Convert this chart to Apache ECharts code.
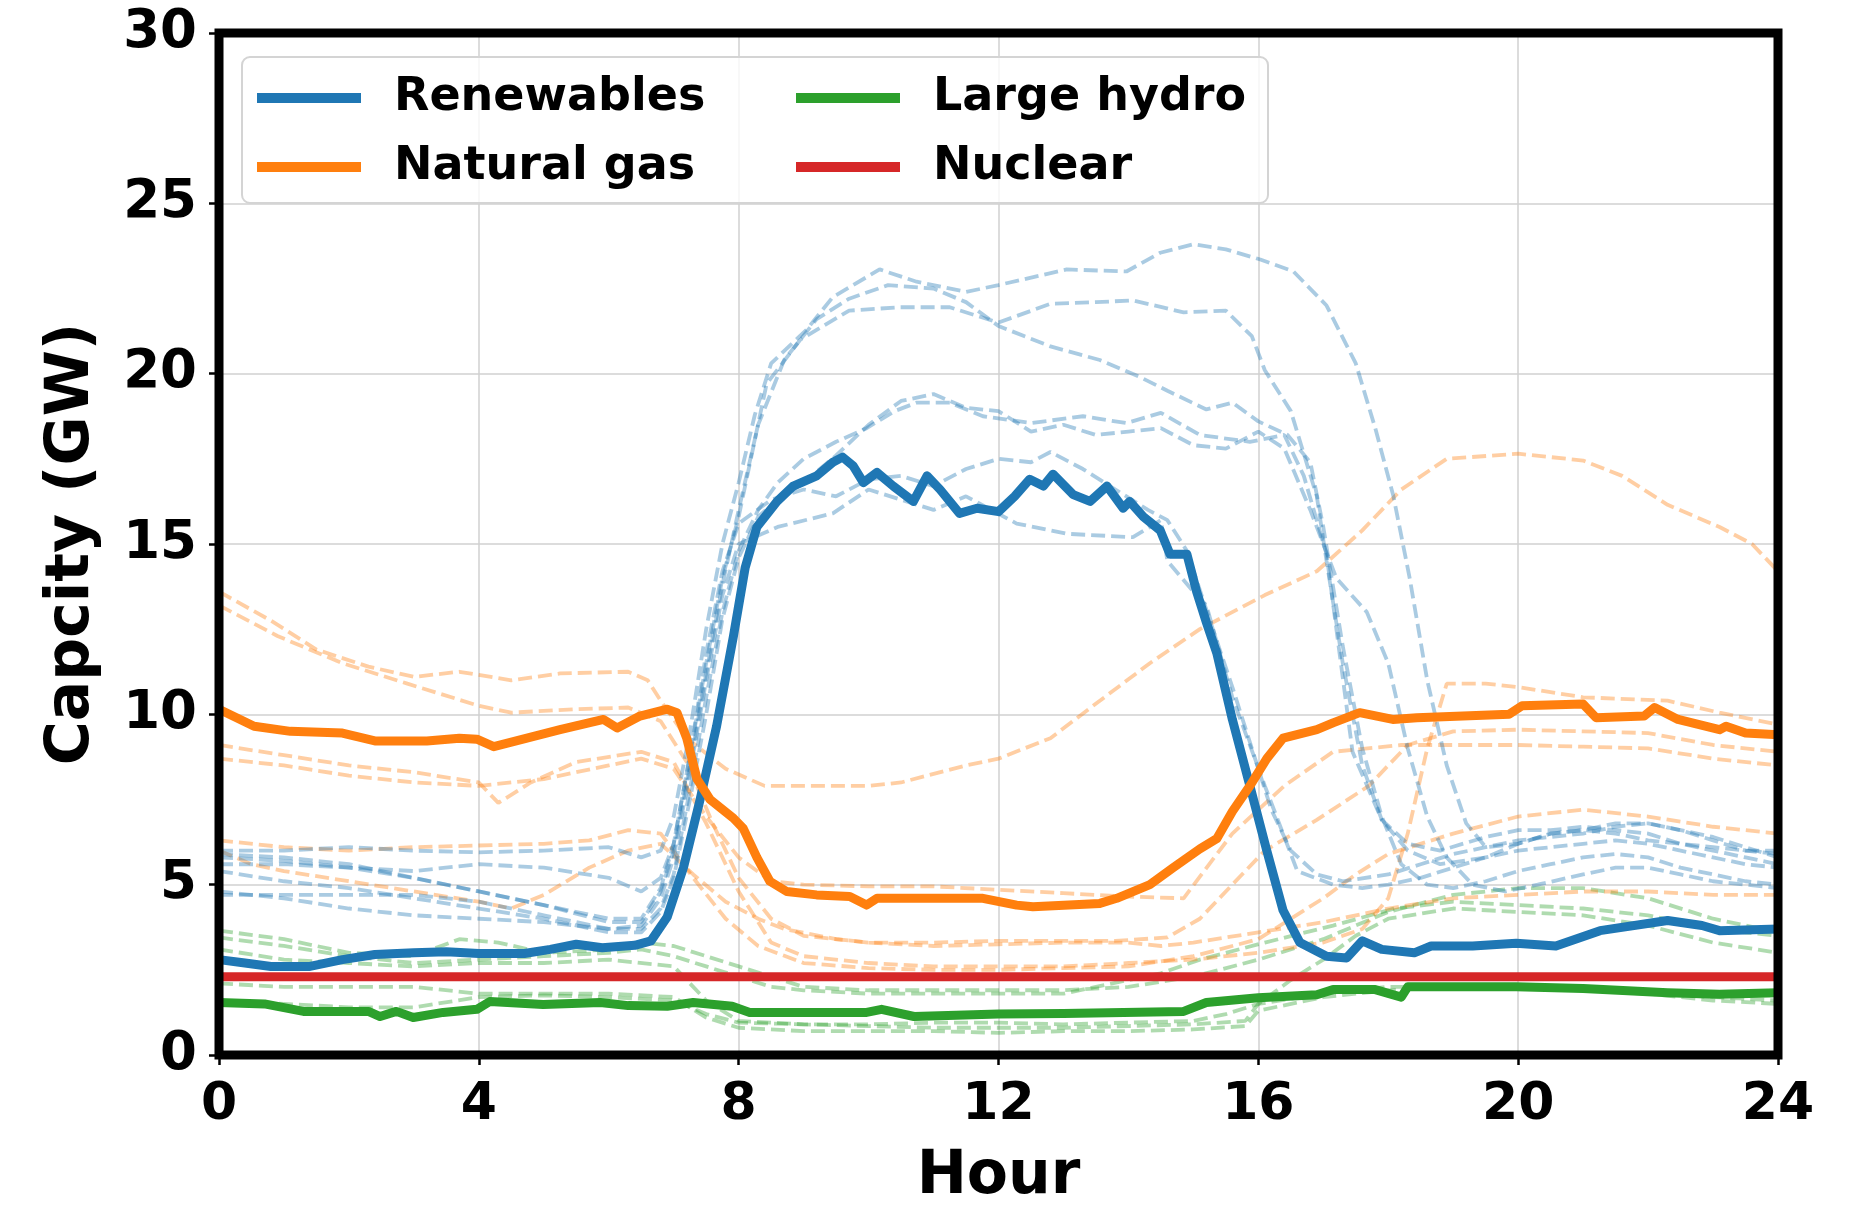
<!DOCTYPE html>
<html>
<head>
<meta charset="utf-8">
<script src="https://cdn.jsdelivr.net/npm/echarts@6/dist/echarts.min.js"></script>
<style>
html,body{margin:0;padding:0;background:#fff;}
#chart{width:1854px;height:1212px;}
</style>
</head>
<body>
<div id="chart"></div>
<script>
// ---------- DATA ----------
const xTicks = [0, 4, 8, 12, 16, 20, 24];
const yTicks = [0, 5, 10, 15, 20, 25, 30];
const legendNames = ['Renewables', 'Natural gas', 'Large hydro', 'Nuclear'];

// Main (solid) lines: [hour, GW]
const renewablesMain = [[0,2.8],[0.4,2.7],[0.8,2.6],[1.4,2.6],[1.9,2.8],[2.4,2.95],[3,3.0],[3.5,3.03],[4,2.98],[4.7,2.98],[5.1,3.1],[5.5,3.25],[5.9,3.15],[6.4,3.22],[6.65,3.35],[6.9,4.05],[7.15,5.5],[7.4,7.45],[7.66,9.65],[7.92,12.3],[8.1,14.3],[8.28,15.5],[8.59,16.25],[8.84,16.7],[9.2,17.0],[9.45,17.4],[9.6,17.55],[9.76,17.3],[9.92,16.8],[10.13,17.1],[10.38,16.7],[10.69,16.25],[10.9,17.0],[11.1,16.6],[11.4,15.9],[11.67,16.05],[12.0,15.95],[12.25,16.4],[12.48,16.9],[12.69,16.7],[12.84,17.05],[13.15,16.45],[13.41,16.25],[13.67,16.7],[13.92,16.05],[14.02,16.25],[14.23,15.8],[14.49,15.4],[14.64,14.7],[14.9,14.7],[15.05,13.6],[15.2,12.7],[15.36,11.8],[15.6,9.85],[15.87,7.9],[16.13,6.0],[16.38,4.25],[16.64,3.3],[17.05,2.9],[17.36,2.85],[17.6,3.35],[17.9,3.1],[18.4,3.0],[18.66,3.2],[19.3,3.2],[19.97,3.28],[20.58,3.2],[21.26,3.65],[22.3,3.95],[22.83,3.8],[23.1,3.65],[24,3.7]];
const naturalGasMain = [[0,10.15],[0.54,9.65],[1.1,9.5],[1.9,9.45],[2.4,9.22],[3.2,9.22],[3.7,9.3],[3.97,9.27],[4.23,9.05],[4.74,9.3],[5.25,9.55],[5.92,9.85],[6.13,9.6],[6.48,9.95],[6.9,10.15],[7.05,10.05],[7.2,9.3],[7.36,8.1],[7.56,7.5],[7.92,6.95],[8.07,6.65],[8.28,5.8],[8.48,5.1],[8.74,4.8],[9.2,4.7],[9.71,4.65],[9.97,4.4],[10.13,4.6],[10.99,4.6],[11.76,4.6],[12.28,4.4],[12.53,4.35],[13.56,4.45],[13.82,4.6],[14.33,5.0],[14.69,5.5],[15.1,6.05],[15.36,6.35],[15.6,7.15],[15.87,7.9],[16.13,8.7],[16.38,9.3],[16.9,9.55],[17.15,9.75],[17.56,10.05],[18.07,9.85],[18.44,9.9],[19.86,10.0],[20.06,10.25],[21.0,10.3],[21.2,9.9],[21.94,9.95],[22.1,10.2],[22.46,9.85],[23.1,9.55],[23.2,9.65],[23.5,9.45],[24,9.4]];
const largeHydroMain = [[0,1.54],[0.7,1.5],[1.3,1.28],[2.3,1.28],[2.48,1.13],[2.73,1.28],[2.99,1.1],[3.45,1.25],[3.97,1.34],[4.17,1.57],[4.99,1.48],[5.87,1.54],[6.3,1.45],[6.9,1.43],[7.3,1.54],[7.9,1.43],[8.17,1.25],[9.97,1.25],[10.2,1.34],[10.7,1.13],[12.0,1.2],[13,1.22],[14.85,1.28],[15.2,1.54],[16.0,1.68],[16.9,1.77],[17.15,1.92],[17.8,1.92],[18.2,1.7],[18.3,2.0],[19.97,2.0],[21,1.95],[22.3,1.83],[23.1,1.78],[24,1.83]];
const nuclearMain = [[0,2.3],[24,2.3]];

// Other days (dashed, faint)
const renewablesDay1 = [[0,6.0],[1,6.0],[2,6.1],[3,6.0],[4,5.95],[5,6.0],[6,6.1],[6.5,5.8],[6.8,6.0],[7.0,7.0],[7.25,9.5],[7.5,12.5],[7.75,15.0],[8.0,16.8],[8.25,18.8],[8.5,20.3],[9.05,21.3],[9.45,22.25],[10.17,23.06],[10.74,22.7],[11.5,22.4],[12.0,22.6],[13.05,23.06],[13.97,23.0],[14.49,23.55],[15.0,23.8],[15.5,23.65],[16.03,23.35],[16.54,23.0],[17.05,22.0],[17.5,20.3],[17.8,18.4],[18.08,16.4],[18.33,14.0],[18.6,11.0],[18.9,8.5],[19.2,6.8],[19.5,6.1],[20,6.2],[20.5,6.5],[21,6.6],[21.5,6.8],[22,6.8],[22.5,6.6],[23,6.3],[23.5,6.0],[24,5.9]];
const renewablesDay2 = [[0,5.6],[1,5.6],[2,5.5],[3,5.4],[4,5.6],[5,5.5],[6,5.2],[6.5,4.8],[6.8,5.2],[7.0,6.2],[7.25,8.8],[7.5,11.5],[7.75,14.0],[8.0,15.8],[8.43,19.7],[8.95,21.0],[9.7,21.85],[10.48,21.95],[11.25,21.95],[12.0,21.5],[12.8,22.05],[13.5,22.1],[14.07,22.15],[14.85,21.8],[15.5,21.85],[15.9,21.1],[16.1,20.1],[16.5,18.9],[16.9,16.4],[17.05,14.5],[17.3,11.5],[17.6,8.5],[17.9,6.9],[18.3,6.0],[18.8,5.6],[19.5,5.8],[20,6.2],[20.5,6.5],[21,6.6],[21.5,6.5],[22,6.3],[22.5,6.2],[23,6.0],[23.5,5.8],[24,5.6]];
const renewablesDay3 = [[0,5.9],[1,5.8],[2,5.6],[3,5.2],[4,4.8],[5,4.4],[6,3.9],[6.5,3.9],[6.8,4.8],[7.0,6.0],[7.25,8.5],[7.5,11.2],[7.75,13.8],[8.0,16.0],[8.3,18.5],[8.7,20.4],[9.2,21.6],[9.7,22.2],[10.3,22.6],[11.0,22.5],[11.5,22.1],[12.0,21.4],[12.8,20.8],[13.56,20.4],[14.18,19.9],[14.6,19.5],[15.2,18.95],[15.6,19.15],[16.0,18.6],[16.45,18.2],[16.8,17.4],[17.0,15.5],[17.3,12.0],[17.6,9.0],[17.9,7.0],[18.2,5.6],[18.6,5.0],[19,4.9],[19.5,5.1],[20,5.4],[20.5,5.6],[21,5.8],[21.5,5.9],[22,5.8],[22.5,5.5],[23,5.3],[23.5,5.1],[24,5.0]];
const renewablesDay4 = [[0,4.7],[1,4.7],[2,4.7],[3,4.7],[4,4.5],[5,4.1],[6,3.7],[6.5,3.7],[6.8,4.3],[7.0,5.3],[7.25,7.8],[7.5,10.5],[7.75,13.0],[8.0,14.8],[8.3,16.0],[8.6,16.8],[9.0,17.5],[9.5,18.0],[9.97,18.4],[10.4,18.9],[10.74,19.15],[11.25,19.15],[11.76,18.75],[12.5,18.55],[13.3,18.75],[13.97,18.55],[14.5,18.85],[15.1,18.2],[15.87,18.0],[16.4,18.2],[16.7,17.0],[17.05,14.7],[17.45,8.9],[17.9,6.9],[18.3,6.2],[18.8,6.0],[19.5,6.4],[20,6.6],[20.5,6.6],[21,6.7],[21.5,6.6],[22,6.5],[22.5,6.2],[23,6.1],[23.5,6.0],[24,6.0]];
const renewablesDay5 = [[0,5.4],[1,5.1],[2,4.9],[3,4.6],[4,4.3],[5,4.0],[6,3.6],[6.5,3.6],[6.8,4.2],[7.0,5.2],[7.25,7.5],[7.5,10.0],[7.75,12.8],[8.0,14.6],[8.3,15.8],[8.6,16.3],[9.0,16.8],[9.5,17.6],[10.0,18.5],[10.5,19.2],[11.0,19.4],[11.5,19.0],[12.0,18.9],[12.5,18.3],[13.0,18.5],[13.5,18.2],[14.0,18.3],[14.5,18.4],[15.0,17.9],[15.5,17.8],[16.0,18.3],[16.4,17.8],[16.8,16.0],[17.2,14.0],[17.67,13.0],[18.0,11.5],[18.3,9.0],[18.6,7.0],[18.9,5.8],[19.3,5.0],[19.8,4.8],[20.3,5.0],[21,5.3],[21.5,5.5],[22,5.5],[22.5,5.3],[23,5.1],[23.5,5.0],[24,4.9]];
const renewablesDay6 = [[0,4.8],[1,4.6],[2,4.3],[3,4.1],[4,4.0],[5,3.9],[6,3.7],[6.5,3.8],[6.8,4.6],[7.0,5.8],[7.25,8.3],[7.5,11.0],[7.75,13.5],[8.0,15.0],[8.6,15.5],[9.45,15.9],[10.0,16.6],[10.5,16.3],[11.0,16.0],[11.5,16.4],[12.28,15.6],[13.05,15.3],[14.07,15.2],[14.5,15.7],[14.6,14.5],[15.0,13.6],[15.2,13.2],[15.6,10.5],[16.1,7.9],[16.6,5.4],[17.15,5.0],[17.6,4.9],[18,5.0],[18.5,5.2],[19,5.5],[19.5,5.8],[20,6.0],[20.5,6.1],[21,6.2],[21.5,6.3],[22,6.2],[22.5,6.0],[23,5.8],[23.5,5.6],[24,5.5]];
const renewablesDay7 = [[0,5.8],[1,5.7],[2,5.5],[3,5.2],[4,4.8],[5,4.4],[6,4.0],[6.5,4.0],[6.8,4.9],[7.0,6.2],[7.25,8.8],[7.5,11.8],[7.75,14.2],[8.0,15.6],[8.5,16.3],[9.0,16.6],[9.5,16.4],[10.0,16.9],[10.5,17.0],[11.0,16.7],[11.5,17.2],[12.0,17.5],[12.5,17.4],[12.8,17.7],[13.3,17.2],[13.8,16.6],[14.3,16.0],[14.6,15.7],[14.9,14.8],[15.3,12.5],[15.6,10.8],[15.9,9.0],[16.2,7.2],[16.5,6.0],[16.9,5.3],[17.3,5.1],[18,5.3],[18.5,5.6],[19,5.9],[19.5,6.1],[20,6.3],[21,6.5],[21.5,6.7],[22,6.8],[22.5,6.6],[23,6.4],[23.5,6.1],[24,5.8]];

const naturalGasDay1 = [[0,13.6],[0.8,12.75],[1.5,11.9],[2.3,11.4],[3,11.1],[3.7,11.25],[4.5,11.0],[5.25,11.2],[6.3,11.25],[6.6,11.0],[6.8,10.4],[7.2,9.3],[7.8,8.4],[8.4,7.9],[9,7.9],[10,7.9],[10.5,8.0],[11.5,8.5],[12,8.7],[12.8,9.3],[13.56,10.4],[14.33,11.5],[15.1,12.5],[16.1,13.5],[16.9,14.2],[17.6,15.4],[18.2,16.6],[18.9,17.5],[20,17.65],[21,17.45],[21.6,17.0],[22.3,16.15],[23.1,15.5],[23.6,15.0],[24,14.2]];
const naturalGasDay2 = [[0,13.2],[0.9,12.3],[1.9,11.5],[2.9,10.9],[4,10.25],[4.5,10.05],[5.5,10.15],[6.3,10.2],[6.8,9.8],[7.2,8.6],[7.6,6.8],[8,5.2],[8.5,4.0],[9,3.5],[10,3.3],[11,3.3],[12,3.35],[13,3.35],[13.8,3.35],[14.6,3.45],[15.1,4.0],[15.6,5.0],[16.1,6.0],[16.9,6.9],[17.7,7.9],[18.3,9.1],[19,9.5],[20,9.55],[21,9.5],[22,9.45],[23,9.1],[24,8.9]];
const naturalGasDay3 = [[0,9.1],[1,8.8],[2,8.5],[3,8.3],[4,8.0],[4.3,7.4],[4.8,8.0],[5.5,8.6],[6.5,8.9],[7,8.6],[7.5,6.8],[8,4.8],[8.5,3.3],[9,2.9],[10,2.7],[11,2.6],[12,2.6],[13,2.6],[14,2.7],[15,2.8],[16,3.0],[17,3.3],[17.6,3.7],[18,4.6],[18.3,6.5],[18.6,9.0],[18.9,10.9],[19.5,10.9],[20,10.8],[21,10.5],[22.3,10.4],[23.1,10.05],[24,9.7]];
const naturalGasDay4 = [[0,8.7],[1,8.5],[2,8.2],[3,8.0],[4,7.9],[5,8.1],[6,8.5],[6.5,8.7],[7,8.4],[7.5,7.0],[8,5.8],[8.5,5.1],[9,5.0],[10,4.95],[11,4.95],[12,4.85],[13,4.75],[14,4.65],[14.85,4.6],[15.6,6.5],[16.4,7.9],[17.15,8.9],[18.2,9.1],[19,9.1],[20,9.1],[21,9.05],[22,9.0],[23,8.7],[24,8.5]];
const naturalGasDay5 = [[0,6.3],[1,6.1],[2,6.0],[3,6.1],[4,6.15],[5,6.2],[5.7,6.3],[6.3,6.6],[6.8,6.5],[7.3,5.2],[7.8,4.0],[8.3,3.2],[9,2.7],[10,2.55],[11,2.5],[12,2.5],[13,2.55],[14,2.6],[15,2.9],[16,3.4],[16.5,4.0],[17,4.6],[17.5,5.3],[18,5.9],[19,6.5],[20,7.0],[21,7.2],[22,7.0],[23,6.7],[24,6.5]];
const naturalGasDay6 = [[0,6.0],[0.5,5.6],[1,5.4],[2,5.1],[3,4.8],[4,4.5],[4.5,4.3],[5,4.7],[5.7,5.5],[6.3,6.0],[6.8,6.2],[7.3,5.3],[7.8,4.5],[8.3,4.0],[8.7,3.7],[9.5,3.4],[10,3.3],[11,3.2],[12,3.25],[13,3.3],[14,3.3],[14.5,3.2],[15,3.3],[16,3.6],[17,3.9],[18,4.3],[19,4.6],[20,4.7],[21,4.8],[22,4.8],[23,4.7],[24,4.7]];

const largeHydroDay1 = [[0,3.65],[1,3.4],[2,3.0],[3,2.9],[3.7,3.4],[4.3,3.3],[5,3.0],[6,3.1],[6.5,3.3],[7,3.2],[7.5,2.9],[8,2.6],[8.5,2.3],[9,2.0],[10,1.9],[11,1.9],[12,1.9],[13,1.9],[14,2.0],[15,2.3],[16,2.8],[17,3.4],[18,4.2],[19,4.7],[20,4.9],[21,4.9],[22,4.6],[23,4.0],[24,3.6]];
const largeHydroDay2 = [[0,3.45],[1,3.2],[2,2.9],[3,2.7],[4,2.8],[5,2.9],[6,3.0],[6.5,3.1],[7,2.9],[7.5,2.6],[8,2.3],[8.5,2.0],[9,1.9],[10,1.8],[12,1.8],[13,1.8],[13.5,2.0],[14.5,2.4],[15.1,2.8],[16.1,3.3],[17.15,3.8],[18.1,4.3],[19,4.5],[20,4.4],[21,4.3],[22,4.1],[23,3.7],[24,3.5]];
const largeHydroDay3 = [[0,3.1],[1,2.8],[2,2.7],[3,2.6],[4,2.7],[5,2.7],[6,2.8],[7,2.6],[7.5,1.6],[8,1.0],[9,0.9],[10,0.85],[11,0.8],[12,0.8],[13,0.8],[14,0.85],[15,0.9],[15.8,1.0],[16,1.5],[16.5,2.2],[17,2.8],[17.5,3.5],[18,4.0],[19,4.3],[20,4.2],[21,4.1],[22,3.8],[23,3.3],[24,3.0]];
const largeHydroDay4 = [[0,2.1],[1,2.0],[2,2.0],[3,2.0],[4,1.8],[5,1.8],[6,1.8],[7,1.7],[7.5,1.1],[8,0.8],[9,0.7],[10,0.7],[11,0.7],[12,0.65],[13,0.7],[14,0.7],[15,0.75],[15.8,0.85],[16,1.3],[17,1.7],[18,1.9],[19,2.0],[20,2.0],[21,1.9],[22,1.8],[23,1.6],[24,1.5]];
const largeHydroDay5 = [[0,1.6],[1,1.5],[2,1.4],[3,1.4],[4,1.7],[5,1.75],[6,1.7],[7,1.6],[7.5,1.2],[8,0.95],[9,0.9],[10,0.9],[11,0.95],[12,0.95],[13,0.9],[14,0.95],[15,1.0],[15.5,1.2],[16,1.5],[17,1.8],[18,2.0],[19,2.0],[20,1.95],[21,1.9],[22,1.8],[23,1.7],[24,1.6]];

// ---------- CHART ----------
const FONT = 'DejaVu Sans';
const C = {ren:'#1f77b4', gas:'#ff7f0e', hyd:'#2ca02c', nuc:'#d62728'};

function dashed(name, data, color){
  return {name:name, type:'line', data:data, symbol:'none', showSymbol:false, silent:true, z:2,
    itemStyle:{color:color},
    lineStyle:{color:color, width:3.8, type:[14,6], opacity:0.38}};
}
function solid(name, data, color){
  return {name:name, type:'line', data:data, symbol:'none', showSymbol:false, silent:true, z:3,
    itemStyle:{color:color},
    lineStyle:{color:color, width:9, cap:'butt', join:'round'}};
}

const series = [
  dashed('hydro d1', largeHydroDay1, C.hyd), dashed('hydro d2', largeHydroDay2, C.hyd),
  dashed('hydro d3', largeHydroDay3, C.hyd), dashed('hydro d4', largeHydroDay4, C.hyd),
  dashed('hydro d5', largeHydroDay5, C.hyd),
  dashed('gas d1', naturalGasDay1, C.gas), dashed('gas d2', naturalGasDay2, C.gas),
  dashed('gas d3', naturalGasDay3, C.gas), dashed('gas d4', naturalGasDay4, C.gas),
  dashed('gas d5', naturalGasDay5, C.gas), dashed('gas d6', naturalGasDay6, C.gas),
  dashed('ren d1', renewablesDay1, C.ren), dashed('ren d2', renewablesDay2, C.ren),
  dashed('ren d3', renewablesDay3, C.ren), dashed('ren d4', renewablesDay4, C.ren),
  dashed('ren d5', renewablesDay5, C.ren), dashed('ren d6', renewablesDay6, C.ren),
  dashed('ren d7', renewablesDay7, C.ren),
  solid(legendNames[0], renewablesMain, C.ren),
  solid(legendNames[1], naturalGasMain, C.gas),
  solid(legendNames[2], largeHydroMain, C.hyd),
  solid(legendNames[3], nuclearMain, C.nuc)
];

const legendText = {fontFamily:FONT, fontSize:46, fontWeight:'bold', color:'#000', lineHeight:50, padding:[0,0,0,28]};
function legendBlock(names, left){
  return {data:names, orient:'vertical', left:left, top:73, itemWidth:104, itemHeight:10, itemGap:19,
    icon:'rect', padding:0, selectedMode:false, z:12, textStyle:legendText};
}

const chart = echarts.init(document.getElementById('chart'), null, {renderer:'canvas'});
chart.setOption({
  animation:false,
  backgroundColor:'#fff',
  grid:{left:219, top:33, width:1559, height:1033, show:true, borderColor:'#000', borderWidth:9, backgroundColor:'transparent', z:10},
  xAxis:{type:'value', min:xTicks[0], max:xTicks[xTicks.length-1], interval:xTicks[1]-xTicks[0],
    name:'Hour', nameLocation:'middle', nameGap:92,
    nameTextStyle:{fontFamily:FONT, fontSize:60, fontWeight:'bold', color:'#000'},
    axisLine:{show:false},
    axisTick:{show:true, length:10, lineStyle:{color:'#000', width:2.5}},
    axisLabel:{fontFamily:FONT, fontSize:52, fontWeight:'bold', color:'#000', margin:24},
    splitLine:{show:true, lineStyle:{color:'#d0d0d0', width:1.5}}},
  yAxis:{type:'value', min:yTicks[0], max:yTicks[yTicks.length-1], interval:yTicks[1]-yTicks[0],
    name:'Capcity (GW)', nameLocation:'middle', nameGap:117, nameRotate:90,
    nameTextStyle:{fontFamily:FONT, fontSize:60, fontWeight:'bold', color:'#000'},
    axisLine:{show:false},
    axisTick:{show:true, length:10, lineStyle:{color:'#000', width:2.5}},
    axisLabel:{fontFamily:FONT, fontSize:53, fontWeight:'bold', color:'#000', margin:22},
    splitLine:{show:true, lineStyle:{color:'#d0d0d0', width:1.5}}},
  legend:[legendBlock([legendNames[0], legendNames[1]], 257), legendBlock([legendNames[2], legendNames[3]], 796)],
  graphic:[{type:'rect', z:11, silent:true,
    shape:{x:242, y:57, width:1026, height:146, r:8},
    style:{fill:'rgba(255,255,255,0.8)', stroke:'#d4d4d4', lineWidth:2}}],
  series:series
});
</script>
</body>
</html>
